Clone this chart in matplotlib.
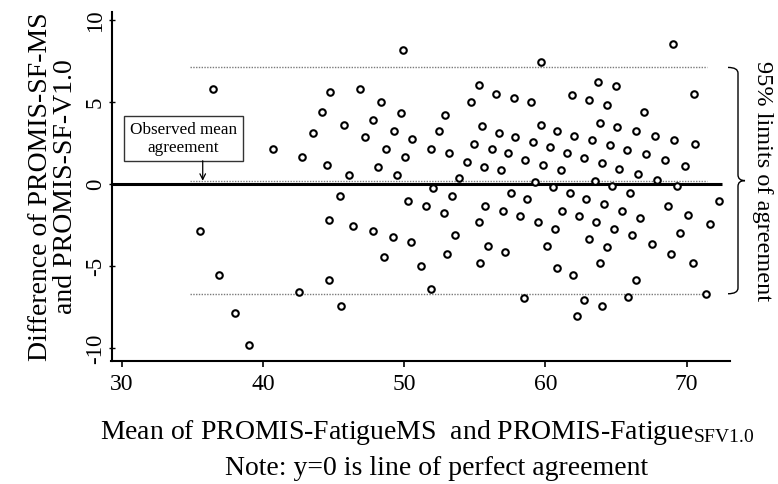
import matplotlib
matplotlib.use('Agg')
import matplotlib.pyplot as plt
import matplotlib.transforms as mtransforms
from matplotlib.path import Path
from matplotlib.patches import PathPatch

plt.rcParams['font.family'] = ['Liberation Serif', 'DejaVu Serif']
plt.rcParams['mathtext.fontset'] = 'custom'
plt.rcParams['mathtext.rm'] = 'Liberation Serif'
plt.rcParams['mathtext.it'] = 'Liberation Serif:italic'
plt.rcParams['mathtext.bf'] = 'Liberation Serif:bold'

# ---------------- data ----------------
mean_scores = [
    36.44, 35.55, 36.89, 38.02, 39.04, 49.94, 40.69, 42.79, 43.53, 44.19,
    44.75, 44.52, 45.74, 46.10, 46.88, 47.25, 47.82, 48.39, 48.72, 48.17,
    49.26, 49.80, 50.58, 50.06, 49.50, 51.90, 45.46, 50.30, 51.55, 44.70,
    46.38, 47.82, 49.21, 50.47, 48.58, 51.20, 44.70, 42.58, 45.51, 51.90,
    59.70, 55.28, 56.51, 57.78, 58.97, 54.74, 61.91, 63.10, 52.92, 52.47,
    53.16, 55.52, 56.70, 57.88, 59.67, 60.83, 62.03, 63.33, 54.95, 56.20,
    57.38, 59.11, 60.35, 61.51, 62.74, 54.45, 55.68, 56.84, 58.54, 59.81,
    61.09, 53.91, 59.27, 60.52, 52.07, 53.37, 52.85, 57.55, 58.73, 61.73,
    62.88, 55.75, 57.00, 58.23, 59.46, 61.18, 62.39, 55.28, 60.67, 53.58,
    55.94, 57.15, 60.12, 63.10, 53.02, 55.40, 60.83, 61.98, 58.51, 62.74,
    62.25, 69.02, 63.71, 64.99, 70.53, 64.39, 67.01, 63.87, 65.10, 66.40,
    67.75, 69.09, 70.58, 64.56, 65.76, 67.15, 68.50, 69.87, 63.99, 65.22,
    66.56, 67.91, 63.50, 64.70, 69.30, 66.00, 72.32, 64.16, 68.71, 65.45,
    70.13, 66.73, 63.59, 71.64, 64.87, 69.54, 66.16, 67.54, 64.35, 68.92,
    63.87, 70.44, 66.45, 64.04, 65.88, 71.38,
]
diff_scores = [
    5.78, -2.90, -5.58, -7.87, -9.83, 8.17, 2.11, 1.62, 3.08, 4.38,
    5.60, 1.14, 3.59, 0.55, 5.78, 2.82, 3.89, 4.97, 2.11, 1.03,
    3.18, 4.30, 2.72, 1.62, 0.55, 2.11, -0.77, -1.05, -1.36, -2.25,
    -2.57, -2.88, -3.27, -3.55, -4.46, -5.05, -5.86, -6.59, -7.48, -6.45,
    7.40, 5.98, 5.49, 5.19, 4.97, 4.97, 5.40, 5.11, 4.20, 3.18,
    1.84, 3.49, 3.08, 2.82, 3.59, 3.18, 2.90, 2.64, 2.43, 2.13,
    1.84, 2.53, 2.23, 1.84, 1.54, 1.34, 1.03, 0.83, 1.42, 1.14,
    0.83, 0.32, 0.08, -0.22, -0.26, -0.75, -1.79, -0.57, -0.97, -0.57,
    -0.97, -1.36, -1.68, -1.99, -2.35, -1.68, -1.99, -2.35, -2.78, -3.14,
    -3.79, -4.18, -3.79, -3.39, -4.28, -4.87, -5.17, -5.58, -6.95, -7.08,
    -8.05, 8.50, 6.20, 5.96, 5.49, 4.76, 4.38, 3.71, 3.42, 3.20,
    2.90, 2.64, 2.43, 2.33, 2.03, 1.78, 1.42, 1.05, 1.23, 0.91,
    0.59, 0.24, 0.14, -0.12, -0.14, -0.57, -1.05, -1.26, -1.36, -1.68,
    -1.89, -2.09, -2.35, -2.48, -2.78, -3.04, -3.14, -3.69, -3.87, -4.28,
    -4.87, -4.87, -5.86, -7.46, -6.93, -6.75,
]
mean_diff = 0.17
upper_loa = 7.08
lower_loa = -6.72

x_ticks = [30, 40, 50, 60, 70]
y_ticks = [-10, -5, 0, 5, 10]
y_tick_labels = ['-10', '-5', '0', '5', '10']

# ---------------- figure ----------------
W, H = 778, 485
fig = plt.figure(figsize=(W / 100, H / 100), dpi=100)
ax = fig.add_axes([111.5 / W, 1 - 362 / H, (730 - 111.5) / W, (362 - 13) / H])

xlim = (29.28, 73.08)
ax.set_xlim(*xlim)
ax.set_ylim(-10.82, 10.46)

# reference lines
ax.hlines(0, xlim[0], 72.5, color='black', lw=2.2, zorder=2)
ax.hlines([lower_loa, mean_diff, upper_loa], 34.85, 71.45,
          colors='#7a7a7a', linestyles=(0, (1, 1)), lw=1.0, zorder=2)

# points
ax.plot(mean_scores, diff_scores, 'o', ms=4.7, mfc='white', mec='black',
        mew=1.5, zorder=3, clip_on=False)

# axes styling
for s in ['top', 'right']:
    ax.spines[s].set_visible(False)
for s in ['left', 'bottom']:
    ax.spines[s].set_linewidth(1.5)

ax.set_xticks(x_ticks)
ax.set_xticklabels([str(t) for t in x_ticks])
ax.set_yticks(y_ticks)
ax.set_yticklabels(y_tick_labels, rotation=90, va='center')
ax.tick_params(axis='x', direction='out', length=4, width=1.2, labelsize=17, pad=5)
ax.tick_params(axis='y', direction='inout', length=4, width=1.0, labelsize=16.5, pad=2)

# annotation box + arrow
ax.text(34.38, 2.76, 'Observed mean\nagreement', ha='center', va='center',
        fontsize=12.3, linespacing=1.15, zorder=5,
        bbox=dict(boxstyle='square,pad=0.32', fc='white', ec='#333333', lw=1.0))
ax.annotate('', xy=(35.74, mean_diff), xytext=(35.74, 1.39),
            arrowprops=dict(arrowstyle='->', color='black', lw=0.9,
                            shrinkA=0, shrinkB=0, mutation_scale=10), zorder=5)

# curly brace for 95% limits
tr = mtransforms.blended_transform_factory(fig.transFigure, ax.transData)
x0, x1, x2 = 728 / W, 738 / W, 745 / W
mid = (upper_loa + lower_loa) / 2
d = 0.35
verts = [
    (x0, upper_loa), (x1, upper_loa), (x1, upper_loa - d),
    (x1, mid + d),
    (x1, mid), (x2, mid),
    (x1, mid), (x1, mid - d),
    (x1, lower_loa + d),
    (x1, lower_loa), (x0, lower_loa),
]
codes = [Path.MOVETO, Path.CURVE3, Path.CURVE3,
         Path.LINETO,
         Path.CURVE3, Path.CURVE3,
         Path.CURVE3, Path.CURVE3,
         Path.LINETO,
         Path.CURVE3, Path.CURVE3]
brace = PathPatch(Path(verts, codes), transform=tr, fill=False, ec='black',
                  lw=1.0, clip_on=False)
fig.add_artist(brace)

fig.text(763 / W, 1 - 181.5 / H, '95% limits of agreement', rotation=270,
         ha='center', va='center', fontsize=17.5)

# axis labels
fig.text(53 / W, 1 - 187 / H, 'Difference of PROMIS-SF-MS\nand PROMIS-SF-V1.0',
         rotation=90, ha='center', va='center', fontsize=20, linespacing=1.05,
         multialignment='center')
fig.text(427 / W, 1 - 438.7 / H,
         'Mean of PROMIS-FatigueMS  and PROMIS-Fatigue$_{\\mathrm{SFV1.0}}$',
         ha='center', va='baseline', fontsize=20)
fig.text(437 / W, 1 - 475 / H, 'Note: y=0 is line of perfect agreement',
         ha='center', va='baseline', fontsize=20)

fig.savefig('out.png', dpi=100)
